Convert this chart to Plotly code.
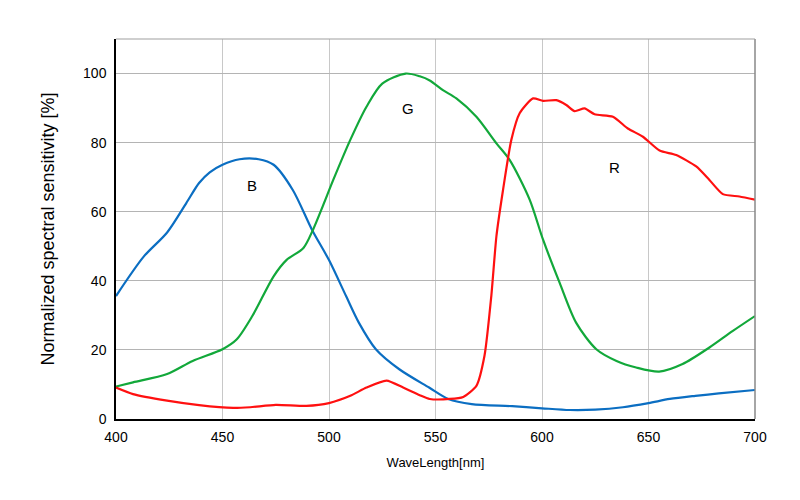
import plotly.graph_objects as go

# 分光感度データ
b_wl = [400, 413, 424, 433, 439, 444, 450, 458, 467, 474, 483, 492, 500, 508, 514, 522, 533,
        547, 556, 567, 586, 600, 613, 625, 638, 650, 660, 672, 683, 700]
b_val = [35.6, 47, 54, 62.5, 68.3, 71.4, 73.6, 75.2, 75.2, 73.6, 66.3, 54.8, 46, 35.6, 27.9, 20.2, 14.4,
         9.1, 5.8, 4.3, 3.7, 3.1, 2.6, 2.7, 3.4, 4.6, 5.8, 6.7, 7.4, 8.4]

g_wl = [400, 408, 424, 436, 450, 456.6, 464, 474, 480, 488, 492.5, 497, 502, 510, 517.6, 525,
        536, 542.6, 547.3, 553.5, 559.8, 569.2, 578.6, 584.8, 594.2, 600.5, 608.3, 616, 625.5,
        635, 644.2, 655, 666, 678.6, 689.6, 700]
g_val = [9.4, 10.6, 13, 16.8, 20.2, 23, 29.8, 41.3, 46, 49.5, 54.8, 61.5, 69.2, 80.8, 90.4, 97.1,
         100, 99.2, 98, 95.2, 92.8, 87.5, 79.8, 75, 63.5, 51.9, 39.4, 27.9, 20.2,
         16.8, 14.9, 13.7, 15.9, 20.7, 25.5, 29.8]

r_wl = [400, 408, 424, 439, 455, 463, 475, 489.4, 500, 510, 517.6, 527, 534.8, 542.6, 547.3,
        556.7, 563, 569.2, 573, 576.2, 578.6, 581.7, 585.6, 589.5, 595.8, 600.5, 606.7, 611.4,
        615.3, 620, 624.7, 633.3, 640.3, 647.4, 655.2, 663, 672.4, 678.6, 684.9, 692.7, 700]
r_val = [9.1, 7.2, 5.3, 4, 3.2, 3.4, 4.1, 3.8, 4.6, 6.7, 9.1, 11.1, 9.1, 6.9, 5.8,
         5.8, 6.4, 9.6, 18.3, 35.6, 52.9, 66.3, 80.8, 88.5, 92.8, 92.1, 92.3, 90.9,
         89.1, 89.9, 88.2, 87.5, 84.1, 81.7, 77.7, 76.4, 73.1, 69.2, 65.1, 64.4, 63.5]

# 曲线标签位置
labels = ["B", "G", "R"]
label_x = [464, 537, 634]
label_y = [67.5, 90, 72.7]

fig = go.Figure()
fig.add_trace(go.Scatter(x=b_wl, y=b_val, mode='lines', name='B',
                         line=dict(color='#0b6ec2', width=2.2, shape='spline', smoothing=0.8)))
fig.add_trace(go.Scatter(x=g_wl, y=g_val, mode='lines', name='G',
                         line=dict(color='#12a83a', width=2.2, shape='spline', smoothing=0.8)))
fig.add_trace(go.Scatter(x=r_wl, y=r_val, mode='lines', name='R',
                         line=dict(color='#ff1010', width=2.2, shape='spline', smoothing=0.6)))

for t, x, y in zip(labels, label_x, label_y):
    fig.add_annotation(x=x, y=y, text=t, showarrow=False,
                       font=dict(size=15, color='black'))

fig.update_xaxes(range=[400, 700], dtick=50, showgrid=True, gridcolor='#c8c8c8',
                 showline=True, linecolor='black', linewidth=1.5, mirror=False,
                 ticks='', zeroline=False, ticklabelstandoff=4,
                 title=dict(text='WaveLength[nm]', font=dict(size=13), standoff=14),
                 tickfont=dict(size=14))
fig.update_yaxes(range=[0, 110], tickvals=[0, 20, 40, 60, 80, 100], showgrid=True,
                 gridcolor='#b4b4b4', showline=True, linecolor='black', linewidth=1.5,
                 ticks='', zeroline=False, ticklabelstandoff=5,
                 title=dict(text='Normalized spectral sensitivity [%]', font=dict(size=18), standoff=24),
                 tickfont=dict(size=14))

# 右側と上側の枠線
fig.add_shape(type='line', xref='paper', yref='paper', x0=1, x1=1, y0=0, y1=1,
              line=dict(color='#888888', width=1.5))
fig.add_shape(type='line', xref='paper', yref='paper', x0=0, x1=1, y0=1, y1=1,
              line=dict(color='#a0a0a0', width=1.2))

# 页面 body 有约 8px 的边距，这里在 margin 中抵消
fig.update_layout(
    width=800, height=500,
    margin=dict(l=108, r=53, t=31, b=89),
    plot_bgcolor='white', paper_bgcolor='white',
    showlegend=False,
    font=dict(family='Liberation Sans, Arial, sans-serif', color='black'),
)

fig.write_html("out.html")
